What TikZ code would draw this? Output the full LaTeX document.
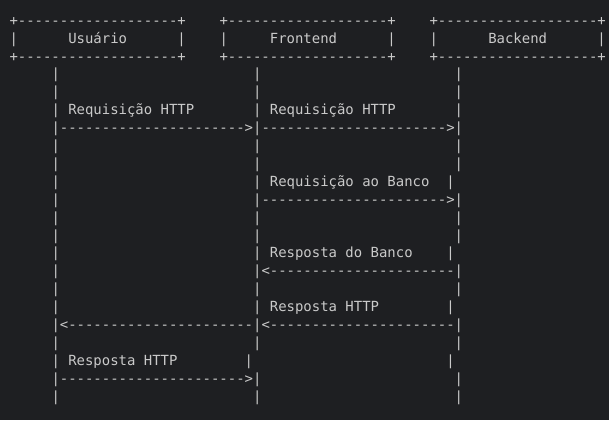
\documentclass[tikz,border=0pt]{standalone}
\usepackage{fontspec}
\setmonofont{DejaVu Sans Mono}
\ExplSyntaxOn
\cs_new:Npn \asciirep #1#2 { \prg_replicate:nn {#1} {#2} }
\ExplSyntaxOff
\definecolor{bg}{HTML}{1E1F22}
\definecolor{fg}{HTML}{CACACA}
\tikzset{
  ch/.style={anchor=base west, inner sep=0pt, outer sep=0pt, text=fg,
    font=\ttfamily\fontsize{13.95pt}{17.9pt}\selectfont},
  cell/.style 2 args={at={({9.5+(#1)*8.4},{25.2+((#2)-1)*17.9})}},
}
\begin{document}
\begin{tikzpicture}[x=1pt,y=-1pt]
\fill[bg] (0,0) rectangle (609,420);
\useasboundingbox (0,0) rectangle (609,420);
% boxes
\node[ch,cell={0}{1}]  (utop) {+\asciirep{19}{-}+};
\node[ch,cell={25}{1}] (ftop) {+\asciirep{19}{-}+};
\node[ch,cell={50}{1}] (btop) {+\asciirep{19}{-}+};
\node[ch,cell={0}{2}]  (usuario)  {|\asciirep{6}{~}Usuário\asciirep{6}{~}|};
\node[ch,cell={25}{2}] (frontend) {|\asciirep{5}{~}Frontend\asciirep{6}{~}|};
\node[ch,cell={50}{2}] (backend)  {|\asciirep{6}{~}Backend\asciirep{6}{~}|};
\node[ch,cell={0}{3}]  (ubot) {+\asciirep{19}{-}+};
\node[ch,cell={25}{3}] (fbot) {+\asciirep{19}{-}+};
\node[ch,cell={50}{3}] (bbot) {+\asciirep{19}{-}+};
% lifelines
\foreach \r in {4,...,22} \node[ch,cell={5}{\r}] (u\r) {|};
\foreach \r in {4,...,19,21,22} \node[ch,cell={29}{\r}] (f\r) {|};
\foreach \r in {4,...,9,11,12,13,15,16,18,19,21,22} \node[ch,cell={53}{\r}] (b\r) {|};
% messages
\node[ch,cell={7}{6}]  (req1) {Requisição HTTP};
\node[ch,cell={31}{6}] (req2) {Requisição HTTP};
\node[ch,cell={6}{7}]  (a1) {\asciirep{22}{-}>};
\node[ch,cell={30}{7}] (a2) {\asciirep{22}{-}>};
\node[ch,cell={31}{10}] (req3) {Requisição ao Banco};
\node[ch,cell={52}{10}] (b10) {|};
\node[ch,cell={30}{11}] (a3) {\asciirep{22}{-}>};
\node[ch,cell={31}{14}] (res1) {Resposta do Banco};
\node[ch,cell={52}{14}] (b14) {|};
\node[ch,cell={30}{15}] (a4) {<\asciirep{22}{-}};
\node[ch,cell={31}{17}] (res2) {Resposta HTTP};
\node[ch,cell={52}{17}] (b17) {|};
\node[ch,cell={6}{18}]  (a5) {<\asciirep{22}{-}};
\node[ch,cell={30}{18}] (a6) {<\asciirep{22}{-}};
\node[ch,cell={7}{20}]  (res3) {Resposta HTTP};
\node[ch,cell={28}{20}] (f20) {|};
\node[ch,cell={52}{20}] (b20) {|};
\node[ch,cell={6}{21}]  (a7) {\asciirep{22}{-}>};
\end{tikzpicture}
\end{document}
